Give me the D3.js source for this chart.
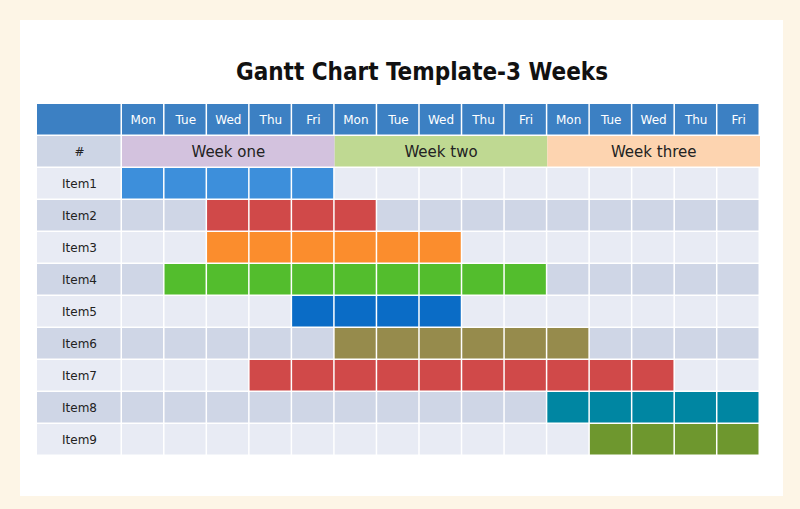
<!DOCTYPE html>
<html>
<head>
<meta charset="utf-8">
<script src="https://cdn.jsdelivr.net/npm/d3@7"></script>
<style>
  body { margin: 0; background: #fdf5e6; }
  svg { display: block; }
</style>
</head>
<body>
<svg id="chart"></svg>
<script>
const days = ['Mon', 'Tue', 'Wed', 'Thu', 'Fri', 'Mon', 'Tue', 'Wed', 'Thu', 'Fri', 'Mon', 'Tue', 'Wed', 'Thu', 'Fri'];
const weeks = ['Week one', 'Week two', 'Week three'];
const weekColors = ['#d3c2de', '#bfd992', '#fdd4b0'];
const items = ['Item1', 'Item2', 'Item3', 'Item4', 'Item5', 'Item6', 'Item7', 'Item8', 'Item9'];
// first and last day index (0..14) of each task
const taskStart = [0, 2, 2, 1, 4, 5, 3, 10, 11];
const taskEnd = [4, 5, 7, 9, 7, 10, 12, 14, 14];
const taskColors = ['#3d8fdb', '#d04949', '#fb8d2d', '#53bd2d', '#0a6cc6', '#968b4c', '#d04949', '#0086a2', '#6e972e'];

const width = 800, height = 509;
const svg = d3.select('#chart').attr('width', width).attr('height', height);

svg.append('rect')
  .attr('x', 20).attr('y', 20)
  .attr('width', 763).attr('height', 476)
  .attr('fill', '#ffffff');

svg.append('text')
  .attr('x', 422).attr('y', 80)
  .attr('text-anchor', 'middle')
  .style('font-family', 'DejaVu Sans Condensed, DejaVu Sans')
  .style('font-weight', 'bold')
  .style('font-size', '24px')
  .attr('fill', '#111')
  .text('Gantt Chart Template-3 Weeks');

const left = 37, firstCol = 122, right = 760;
const headTop = 104, rowH = 32;

const x = d3.scaleLinear().domain([0, days.length]).range([firstCol, right]);
const y = d3.scaleBand().domain(items).range([headTop + 2 * rowH, headTop + 2 * rowH + items.length * rowH]);
const rowFill = (d, i) => i % 2 === 0 ? '#e8ebf4' : '#cfd6e6';
const gap = 1.5;

const g = svg.append('g');

// header row
g.append('rect')
  .attr('x', left).attr('y', headTop)
  .attr('width', firstCol - left - gap).attr('height', rowH - gap)
  .attr('fill', '#3c80c3');
g.selectAll('.day')
  .data(days)
  .enter()
  .append('rect')
  .attr('x', (d, i) => x(i))
  .attr('y', headTop)
  .attr('width', x(1) - x(0) - gap)
  .attr('height', rowH - gap)
  .attr('fill', '#3c80c3');
g.selectAll('.dayLabel')
  .data(days)
  .enter()
  .append('text')
  .attr('x', (d, i) => x(i + 0.5))
  .attr('y', headTop + rowH / 2 + 4)
  .attr('text-anchor', 'middle')
  .style('font-family', 'DejaVu Sans')
  .style('font-size', '12px')
  .attr('fill', '#ffffff')
  .text(d => d);

// week row
const wy = headTop + rowH;
g.append('rect')
  .attr('x', left).attr('y', wy)
  .attr('width', firstCol - left - gap).attr('height', rowH - gap)
  .attr('fill', '#cdd5e5');
g.append('text')
  .attr('x', (left + firstCol) / 2).attr('y', wy + rowH / 2 + 4)
  .attr('text-anchor', 'middle')
  .style('font-family', 'DejaVu Sans')
  .style('font-size', '12px')
  .attr('fill', '#222')
  .text('#');
g.selectAll('.week')
  .data(weeks)
  .enter()
  .append('rect')
  .attr('x', (d, i) => x(i * 5))
  .attr('y', wy)
  .attr('width', x(5) - x(0))
  .attr('height', rowH - gap)
  .attr('fill', (d, i) => weekColors[i]);
g.selectAll('.weekLabel')
  .data(weeks)
  .enter()
  .append('text')
  .attr('x', (d, i) => x(i * 5 + 2.5))
  .attr('y', wy + rowH / 2 + 5)
  .attr('text-anchor', 'middle')
  .style('font-family', 'DejaVu Sans')
  .style('font-size', '15px')
  .attr('fill', '#222')
  .text(d => d);

// item rows: label cell + grid cells
items.forEach((item, r) => {
  const ry = y(item);
  g.append('rect')
    .attr('x', left).attr('y', ry)
    .attr('width', firstCol - left - gap).attr('height', rowH - gap)
    .attr('fill', rowFill(item, r));
  g.append('text')
    .attr('x', (left + firstCol) / 2).attr('y', ry + rowH / 2 + 4)
    .attr('text-anchor', 'middle')
    .style('font-family', 'DejaVu Sans')
    .style('font-size', '12px')
    .attr('fill', '#222')
    .text(item);
  g.selectAll('.cell' + r)
    .data(days)
    .enter()
    .append('rect')
    .attr('x', (d, i) => x(i))
    .attr('y', ry)
    .attr('width', x(1) - x(0) - gap)
    .attr('height', rowH - gap)
    .attr('fill', (d, i) => (i >= taskStart[r] && i <= taskEnd[r]) ? taskColors[r] : rowFill(item, r));
});
</script>
</body>
</html>
